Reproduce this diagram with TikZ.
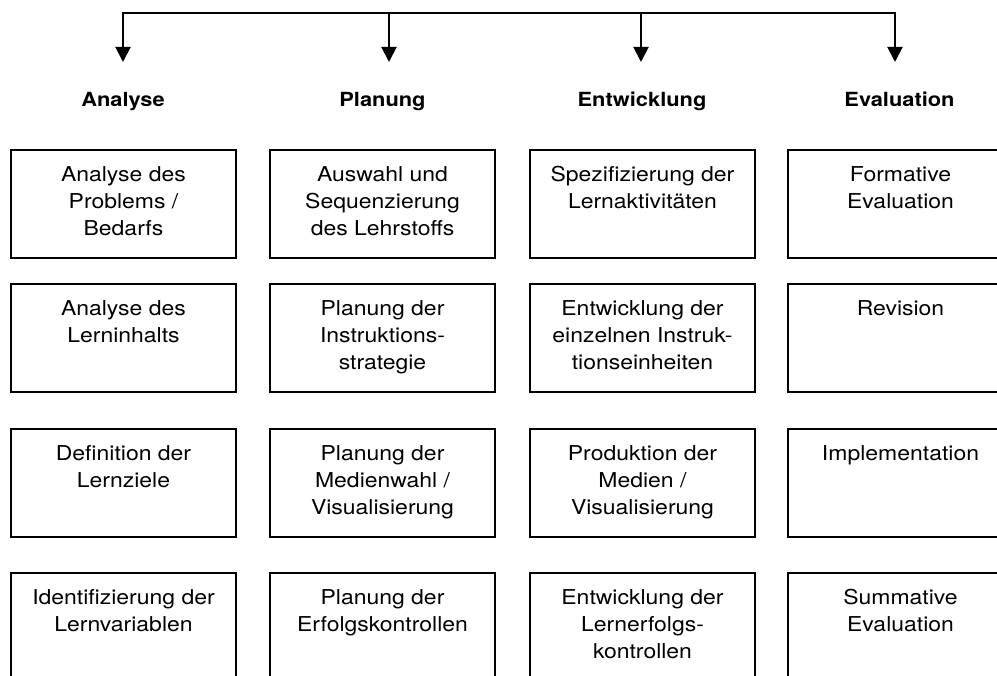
\documentclass[tikz,border=0pt]{standalone}
\usepackage{fontspec}
\setmainfont[FakeStretch=1.12]{TeX Gyre Heros}
\usetikzlibrary{arrows.meta}
\newcommand{\bxt}[1]{\vbox to 108pt{\hsize=225pt\parindent=0pt\lineskip=0pt\vskip 13.3pt\centering\strut #1\par\vfil}}
\tikzset{
  stagebox/.style={draw, line width=1.3pt, rectangle, inner sep=0pt, outer sep=0pt, anchor=north west,
    font=\fontsize{20.5pt}{26.7pt}\selectfont},
  phasehead/.style={font=\bfseries\fontsize{19.5pt}{24pt}\selectfont, anchor=base, inner sep=0pt},
  flowarrow/.style={line width=2pt, -{Triangle[width=15pt,length=15pt]}},
  topline/.style={line width=2pt, line cap=rect}
}
\begin{document}
\begin{tikzpicture}[x=1pt,y=1pt]
\clip (0,0) rectangle (997,-676);
\fill[white] (0,0) rectangle (997,-676);

% top distribution line and arrows
\coordinate (t1) at (123,-13);
\coordinate (t2) at (389,-13);
\coordinate (t3) at (641,-13);
\coordinate (t4) at (895,-13);
\coordinate (a1) at (123,-62);
\coordinate (a2) at (389,-62);
\coordinate (a3) at (641,-62);
\coordinate (a4) at (895,-62);
\draw[topline] (t1) -- (t4);
\draw[flowarrow] (t1) -- (a1);
\draw[flowarrow] (t2) -- (a2);
\draw[flowarrow] (t3) -- (a3);
\draw[flowarrow] (t4) -- (a4);

% headings
\node[phasehead] (h1) at (123,-107) {Analyse};
\node[phasehead] (h2) at (382.5,-107) {Planung};
\node[phasehead] (h3) at (642,-107) {Entwicklung};
\node[phasehead] (h4) at (899.5,-107) {Evaluation};

% column 1
\node[stagebox] (b11) at (11,-150) {\bxt{Analyse des\\Problems /\\Bedarfs}};
\node[stagebox] (b12) at (11,-284) {\bxt{Analyse des\\Lerninhalts}};
\node[stagebox] (b13) at (11,-429) {\bxt{Definition der\\Lernziele}};
\node[stagebox] (b14) at (11,-573) {\bxt{Identifizierung der\\Lernvariablen}};
% column 2
\node[stagebox] (b21) at (270,-150) {\bxt{Auswahl und\\Sequenzierung\\des Lehrstoffs}};
\node[stagebox] (b22) at (270,-284) {\bxt{Planung der\\Instruktions-\\strategie}};
\node[stagebox] (b23) at (270,-429) {\bxt{Planung der\\Medienwahl /\\Visualisierung}};
\node[stagebox] (b24) at (270,-573) {\bxt{Planung der\\Erfolgskontrollen}};
% column 3
\node[stagebox] (b31) at (530,-150) {\bxt{Spezifizierung der\\Lernaktivitäten}};
\node[stagebox] (b32) at (530,-284) {\bxt{Entwicklung der\\einzelnen Instruk-\\tionseinheiten}};
\node[stagebox] (b33) at (530,-429) {\bxt{Produktion der\\Medien /\\Visualisierung}};
\node[stagebox] (b34) at (530,-573) {\bxt{Entwicklung der\\Lernerfolgs-\\kontrollen}};
% column 4
\node[stagebox] (b41) at (788,-150) {\bxt{Formative\\Evaluation}};
\node[stagebox] (b42) at (788,-284) {\bxt{Revision}};
\node[stagebox] (b43) at (788,-429) {\bxt{Implementation}};
\node[stagebox] (b44) at (788,-573) {\bxt{Summative\\Evaluation}};
\end{tikzpicture}
\end{document}
